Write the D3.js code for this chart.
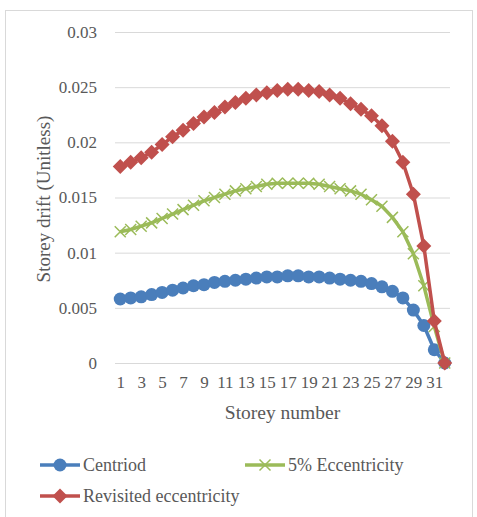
<!DOCTYPE html>
<html>
<head>
<meta charset="utf-8">
<script src="https://cdn.jsdelivr.net/npm/d3@7"></script>
<style>
  body { margin: 0; background: #fff; }
  svg text { font-family: "Liberation Serif", "Times New Roman", serif; fill: #595959; }
</style>
</head>
<body>
<div id="chart"></div>
<script>
// storeys 1..32
const storeys = d3.range(1, 33);
const xTickLabels = [1, 3, 5, 7, 9, 11, 13, 15, 17, 19, 21, 23, 25, 27, 29, 31];
const yTicks = [0, 0.005, 0.01, 0.015, 0.02, 0.025, 0.03];

const centroid = [0.0058, 0.0059, 0.0060, 0.0062, 0.0064, 0.0066, 0.0068, 0.0070, 0.0071, 0.0073,
                  0.0074, 0.0075, 0.0076, 0.0077, 0.0078, 0.0078, 0.0079, 0.0079, 0.0078, 0.0078,
                  0.0077, 0.0076, 0.0075, 0.0074, 0.0072, 0.0069, 0.0065, 0.0059, 0.0048, 0.0034,
                  0.0012, 0];
const ecc5 = [0.0119, 0.0121, 0.0124, 0.0127, 0.0131, 0.0135, 0.0139, 0.0143, 0.0147, 0.0150,
              0.0153, 0.0156, 0.0158, 0.0160, 0.0162, 0.0163, 0.0163, 0.0163, 0.0163, 0.0162,
              0.0160, 0.0158, 0.0156, 0.0153, 0.0148, 0.0142, 0.0132, 0.0119, 0.0099, 0.0070,
              0.0033, 0];
const revisited = [0.0178, 0.0182, 0.0186, 0.0191, 0.0198, 0.0205, 0.0211, 0.0217, 0.0223, 0.0227,
                   0.0232, 0.0236, 0.0240, 0.0243, 0.0245, 0.0247, 0.0248, 0.0248, 0.0247, 0.0246,
                   0.0243, 0.0240, 0.0235, 0.0230, 0.0224, 0.0215, 0.0201, 0.0182, 0.0153, 0.0106,
                   0.0038, 0];

const series = [
    { name: "Centriod", values: centroid, color: "#4a7ebb", marker: "circle" },
    { name: "5% Eccentricity", values: ecc5, color: "#9bbb59", marker: "x" },
    { name: "Revisited eccentricity", values: revisited, color: "#c0504d", marker: "diamond" },
];

const dimensions = {
    width: 477,
    height: 517,
    margin: { top: 32, right: 27, bottom: 154, left: 115 },
};
dimensions.boundedWidth = dimensions.width - dimensions.margin.left - dimensions.margin.right;
dimensions.boundedHeight = dimensions.height - dimensions.margin.top - dimensions.margin.bottom;

const svg = d3.select("#chart")
    .append("svg")
    .attr("width", dimensions.width)
    .attr("height", dimensions.height);

// chart area border
svg.append("rect")
    .attr("x", 5.5).attr("y", 10.5)
    .attr("width", 467).attr("height", 520)
    .attr("fill", "#fff")
    .attr("stroke", "#d9d9d9");

const xScale = d3.scalePoint()
    .domain(storeys)
    .range([0, dimensions.boundedWidth])
    .padding(0.5);

const yScale = d3.scaleLinear()
    .domain([0, 0.03])
    .range([dimensions.boundedHeight, 0]);

const bounds = svg.append("g")
    .attr("transform", `translate(${dimensions.margin.left}, ${dimensions.margin.top})`);

// gridlines
bounds.append("g")
    .call(d3.axisLeft(yScale).tickValues(yTicks).tickSize(-dimensions.boundedWidth).tickFormat(""))
    .call(g => g.select(".domain").remove())
    .call(g => g.selectAll("line").attr("stroke", "#d9d9d9").attr("stroke-width", 1));

// y axis labels
bounds.append("g")
    .attr("transform", "translate(-15, 0)")
    .call(d3.axisLeft(yScale).tickValues(yTicks).tickSize(0).tickFormat(d => String(d)))
    .attr("font-family", null)
    .attr("font-size", 17)
    .call(g => g.select(".domain").remove())
    .call(g => g.selectAll("text").attr("fill", null));

// x axis labels
bounds.append("g")
    .attr("transform", `translate(0, ${dimensions.boundedHeight + 10})`)
    .call(d3.axisBottom(xScale).tickValues(xTickLabels).tickSize(0))
    .attr("font-family", null)
    .attr("font-size", 17)
    .call(g => g.select(".domain").remove())
    .call(g => g.selectAll("text").attr("fill", null));

const line = d3.line()
    .x((d, i) => xScale(storeys[i]))
    .y(d => yScale(d));

function drawMarker(g, type, color) {
    if (type === "circle") {
        g.append("circle").attr("r", 6.5).attr("fill", color);
    } else if (type === "diamond") {
        g.append("path")
            .attr("d", "M0,-7.5L7.5,0L0,7.5L-7.5,0Z")
            .attr("fill", color);
    } else {
        g.append("path")
            .attr("d", "M-5.5,-5.5L5.5,5.5M-5.5,5.5L5.5,-5.5")
            .attr("stroke", color)
            .attr("stroke-width", 1.5)
            .attr("fill", "none");
    }
}

series.forEach(s => {
    bounds.append("path")
        .datum(s.values)
        .attr("d", line)
        .attr("fill", "none")
        .attr("stroke", s.color)
        .attr("stroke-width", 3.5)
        .attr("stroke-linejoin", "round");

    bounds.selectAll(null)
        .data(s.values)
        .join("g")
        .attr("transform", (d, i) => `translate(${xScale(storeys[i])}, ${yScale(d)})`)
        .each(function() { drawMarker(d3.select(this), s.marker, s.color); });
});

// axis titles
svg.append("text")
    .attr("x", dimensions.margin.left + dimensions.boundedWidth / 2)
    .attr("y", 419)
    .attr("text-anchor", "middle")
    .style("font-size", "19.5px")
    .text("Storey number");

svg.append("text")
    .attr("transform", "translate(50, 199) rotate(-90)")
    .attr("text-anchor", "middle")
    .style("font-size", "19px")
    .text("Storey drift (Unitless)");

// legend
const legendPos = [[40, 465], [245, 465], [40, 496]];
series.forEach((s, i) => {
    const g = svg.append("g")
        .attr("transform", `translate(${legendPos[i][0]}, ${legendPos[i][1]})`);
    g.append("line")
        .attr("x1", 0).attr("x2", 40)
        .attr("stroke", s.color)
        .attr("stroke-width", 3.5);
    drawMarker(g.append("g").attr("transform", "translate(20, 0)"), s.marker, s.color);
    g.append("text")
        .attr("x", 43)
        .attr("y", 6)
        .style("font-size", "18px")
        .text(s.name);
});
</script>
</body>
</html>
